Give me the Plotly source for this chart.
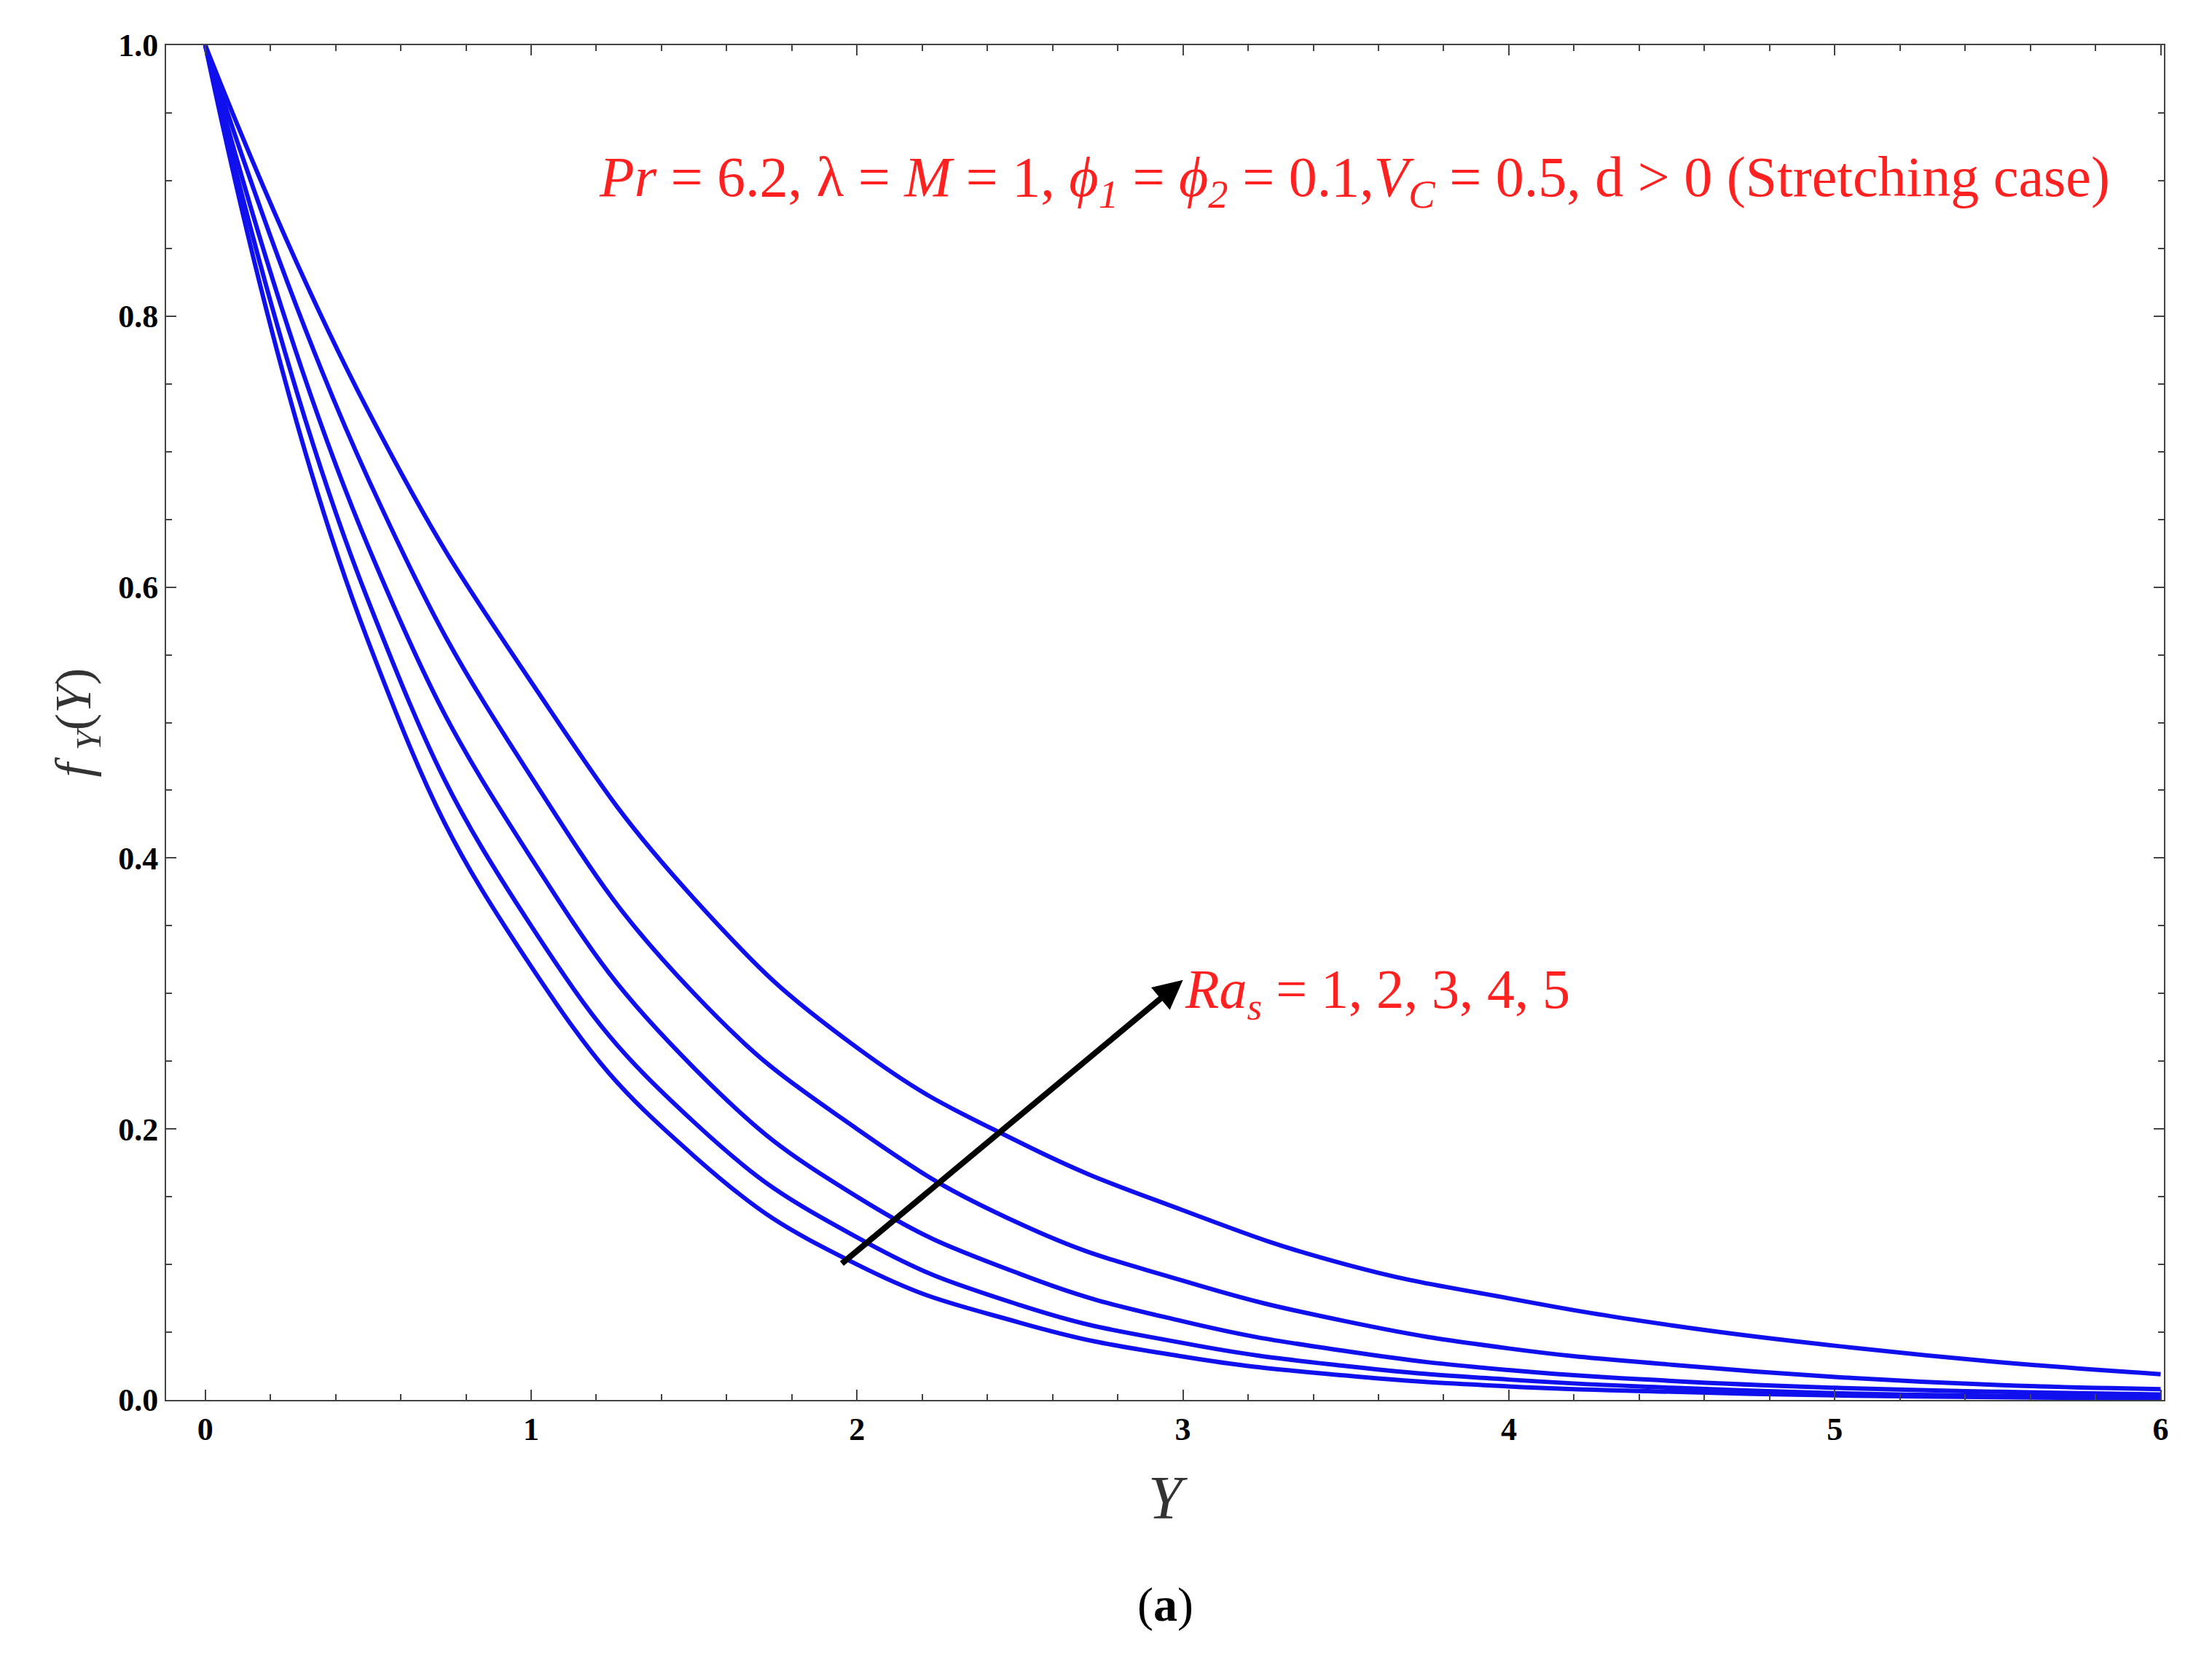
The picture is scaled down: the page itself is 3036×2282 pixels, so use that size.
import plotly.graph_objects as go

# Values
Y = [0, 0.5, 1, 1.5, 2, 2.5, 3, 3.5, 4, 4.5, 5, 5.5, 6]
ra1 = [1, 0.56, 0.32, 0.18, 0.10, 0.057, 0.032, 0.018, 0.010, 0.006, 0.0033, 0.002, 0.001]
ra2 = [1, 0.59, 0.35, 0.205, 0.12, 0.07, 0.042, 0.025, 0.015, 0.009, 0.005, 0.003, 0.002]
ra3 = [1, 0.63, 0.40, 0.245, 0.15, 0.093, 0.058, 0.036, 0.022, 0.014, 0.009, 0.006, 0.004]
ra4 = [1, 0.68, 0.46, 0.30, 0.20, 0.13, 0.088, 0.058, 0.038, 0.026, 0.017, 0.011, 0.008]
ra5 = [1, 0.73, 0.53, 0.37, 0.26, 0.19, 0.14, 0.10, 0.075, 0.055, 0.04, 0.028, 0.019]

font = "Liberation Serif"
fig = go.Figure()
for s in [ra1, ra2, ra3, ra4, ra5]:
    fig.add_trace(go.Scatter(x=Y, y=s, mode="lines",
                             line=dict(color="#1010ee", width=6, shape="spline", smoothing=1.3),
                             showlegend=False))

axis_common = dict(showgrid=False, zeroline=False, showline=True, linecolor="#444", linewidth=2,
                   mirror="ticks", ticks="inside", ticklen=14, tickwidth=2, tickcolor="#444",
                   tickfont=dict(family=font, size=44, color="black", weight="bold"))
fig.update_xaxes(range=[-0.12, 6.01], dtick=1, minor=dict(dtick=0.2, ticks="inside", ticklen=8, tickcolor="#444"),
                 title=dict(text="<i>Y</i>", font=dict(family=font, size=84, color="#333"), standoff=40),
                 **axis_common)
fig.update_yaxes(range=[0, 1], dtick=0.2, tickformat=".1f",
                 minor=dict(dtick=0.05, ticks="inside", ticklen=8, tickcolor="#444"),
                 title=dict(text="<i>f</i> <sub><i>Y</i></sub>(<i>Y</i>)", font=dict(family=font, size=70, color="#333")),
                 **axis_common)

fig.add_annotation(x=3.0, y=0.31, ax=1.95, ay=0.1, xref="x", yref="y", axref="x", ayref="y",
                   showarrow=True, arrowhead=2, arrowsize=1, arrowwidth=8, arrowcolor="black", text="")
fig.add_annotation(x=3.0, y=0.30, xanchor="left", showarrow=False,
                   text="<i>Ra<sub>s</sub></i> = 1, 2, 3, 4, 5",
                   font=dict(family=font, size=76, color="#ff2020"))
fig.add_annotation(x=5.85, y=0.90, xanchor="right", showarrow=False,
                   text="<i>Pr</i> = 6.2, λ = <i>M</i> = 1, <i>ϕ<sub>1</sub></i> = <i>ϕ<sub>2</sub></i> = 0.1,<i>V<sub>C</sub></i> = 0.5, d > 0 (Stretching case)",
                   font=dict(family=font, size=78, color="#ff2020"))
fig.add_annotation(x=0.5, y=0, xref="paper", yref="paper", yshift=-320, showarrow=False,
                   text="(<b>a</b>)", font=dict(family=font, size=66, color="black"))

fig.update_layout(width=3036, height=2282, plot_bgcolor="white", paper_bgcolor="white",
                  margin=dict(l=220, r=74, t=54, b=369))
fig.write_html("out.html")
